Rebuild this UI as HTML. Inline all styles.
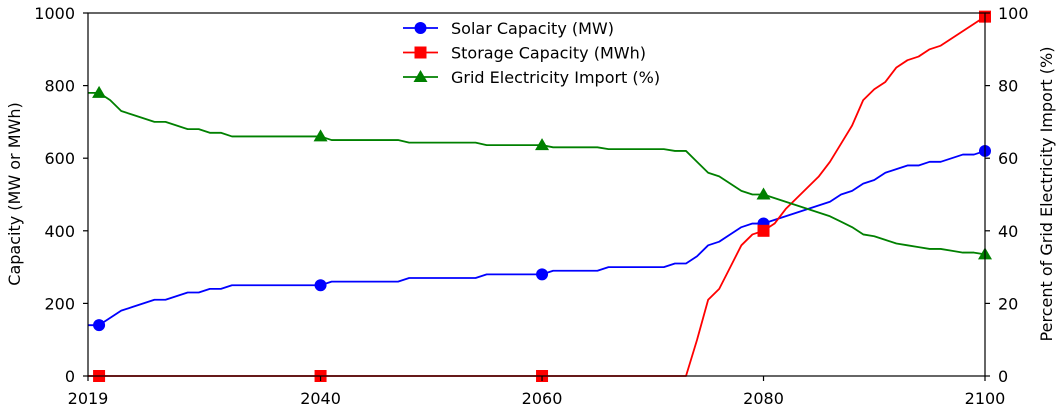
<!DOCTYPE html>
<html><head><meta charset="utf-8"><style>
html,body{margin:0;padding:0;background:#fff;}
svg{display:block;font-family:"DejaVu Sans","Liberation Sans",sans-serif;}
</style></head><body>
<svg id="chart" width="1062" height="413" xmlns="http://www.w3.org/2000/svg"></svg>
<script>
const years = [];
for (let y = 2019; y <= 2100; y++) years.push(y);
const solar = [140,140,160,180,190,200,210,210,220,230,230,240,240,250,250,250,250,250,250,250,250,250,
260,260,260,260,260,260,260,270,270,270,270,270,270,270,280,280,280,280,280,280,
290,290,290,290,290,300,300,300,300,300,300,310,310,330,360,370,390,410,420,420,
430,440,450,460,470,480,500,510,530,540,560,570,580,580,590,590,600,610,610,620];
const storage = [];
for (let y = 2019; y <= 2073; y++) storage.push(0);
const storageLate = [100,210,240,300,360,390,400,420,460,490,520,550,590,640,690,760,790,810,850,870,880,900,910,930,950,970,990];
const storageAll = storage.concat(storageLate);
const grid = [78,78,76,73,72,71,70,70,69,68,68,67,67,66,66,66,66,66,66,66,66,66,
65,65,65,65,65,65,65,64.3,64.3,64.3,64.3,64.3,64.3,64.3,63.6,63.6,63.6,63.6,63.6,63.6,
63,63,63,63,63,62.5,62.5,62.5,62.5,62.5,62.5,62,62,59,56,55,53,51,50,50,
49,48,47,46,45,44,42.5,41,39,38.5,37.5,36.5,36,35.5,35,35,34.5,34,34,33.5];
const markerYears = [2020,2040,2060,2080,2100];
const xTicks = [2019,2040,2060,2080,2100];
const yLeftTicks = [0,200,400,600,800,1000];
const yRightTicks = [0,20,40,60,80,100];

const L=88,R=985,T=13,B=376;
const FS=16;
const xS = v => L + (v-2019)/(2100-2019)*(R-L);
const yL = v => B - v/1000*(B-T);
const yR = v => B - v/100*(B-T);
const NS="http://www.w3.org/2000/svg";
const svg=document.getElementById('chart');
function mk(tag, attrs, parent){const e=document.createElementNS(NS,tag);for(const k in attrs)e.setAttribute(k,attrs[k]);(parent||svg).appendChild(e);return e;}

function series(vals, yf, color, name, marker){
  const g=mk('g',{});
  
  
  const pts=vals.map((v,i)=>xS(years[i]).toFixed(2)+','+yf(v).toFixed(2)).join(' ');
  const pl=mk('polyline',{points:pts,fill:'none',stroke:color,'stroke-width':1.8,'stroke-linejoin':'round'},g);
  
  
  markerYears.forEach(my=>{
    const i=years.indexOf(my); if(i<0) return;
    const m=drawMarker(marker, xS(my), yf(vals[i]), color, g);
    
    
  });
}
function drawMarker(type,cx,cy,color,g){
  if(type==='circle') return mk('circle',{cx:cx,cy:cy,r:6,fill:color},g);
  if(type==='square') return mk('rect',{x:cx-6,y:cy-6,width:12,height:12,fill:color},g);
  return mk('polygon',{points:`${cx},${cy-7} ${cx-7},${cy+5} ${cx+7},${cy+5}`,fill:color},g);
}
series(solar, yL, '#0000ff', 'solar', 'circle');
series(storageAll, yL, '#ff0000', 'storage', 'square');
series(grid, yR, '#008000', 'grid-import', 'triangle');

const frame=mk('rect',{x:L,y:T,width:R-L,height:B-T,fill:'none',stroke:'#000','stroke-width':1.2});



xTicks.forEach(t=>{
  const x=xS(t);
  mk('line',{x1:x,y1:B,x2:x,y2:B+5,stroke:'#000','stroke-width':1.2});
  const tx=mk('text',{x:x,y:404,'font-size':FS,'text-anchor':'middle'});
  tx.textContent=t;
  
  
});
yLeftTicks.forEach(t=>{
  const y=yL(t);
  mk('line',{x1:L-5,y1:y,x2:L,y2:y,stroke:'#000','stroke-width':1.2});
  const tx=mk('text',{x:75,y:y+6,'font-size':FS,'text-anchor':'end'});
  tx.textContent=t;
  
  
});
yRightTicks.forEach(t=>{
  const y=yR(t);
  mk('line',{x1:R,y1:y,x2:R+5,y2:y,stroke:'#000','stroke-width':1.2});
  const tx=mk('text',{x:998,y:y+6,'font-size':FS,'text-anchor':'start'});
  tx.textContent=t;
  
  
});
const yt=mk('text',{x:0,y:0,'font-size':FS,'text-anchor':'middle',transform:'translate(20,194) rotate(-90)'});
yt.textContent='Capacity (MW or MWh)';


const yt2=mk('text',{x:0,y:0,'font-size':FS,'text-anchor':'middle',transform:'translate(1052,194) rotate(-90)'});
yt2.textContent='Percent of Grid Electricity Import (%)';



const legend=[['Solar Capacity (MW)','#0000ff','circle'],['Storage Capacity (MWh)','#ff0000','square'],['Grid Electricity Import (%)','#008000','triangle']];
legend.forEach((e,i)=>{
  const y=28+i*24.5;
  const g=mk('g',{});
  
  
  mk('line',{x1:403,y1:y,x2:438,y2:y,stroke:e[1],'stroke-width':1.8},g);
  drawMarker(e[2],420.5,y,e[1],g);
  const t=mk('text',{x:451,y:y+6,'font-size':FS},g);
  t.textContent=e[0];
});
</script>
</body></html>
